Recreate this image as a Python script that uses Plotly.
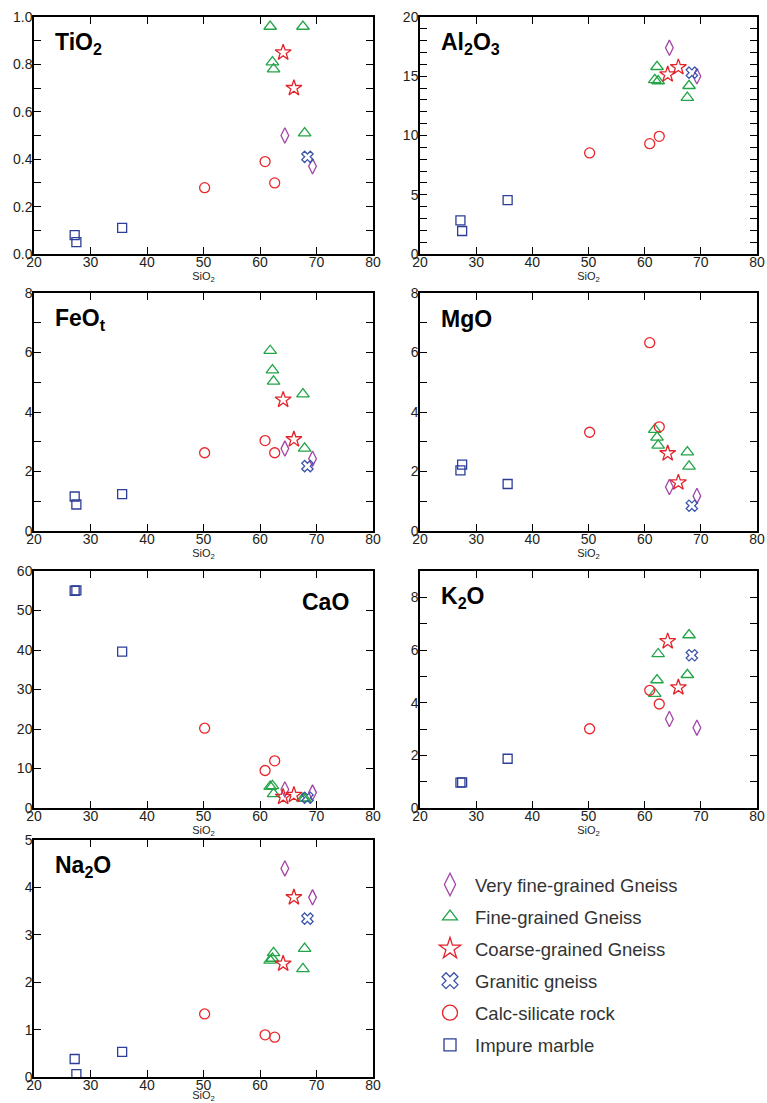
import plotly.graph_objects as go

# ---------------- data ----------------
GROUPS = ["Very fine-grained Gneiss", "Fine-grained Gneiss", "Coarse-grained Gneiss",
          "Granitic gneiss", "Calc-silicate rock", "Impure marble"]

SIO2_VFG = [64.4, 69.3]
SIO2_FG = [61.8, 62.2, 62.4, 67.6, 67.9]
SIO2_CG = [64.1, 66.0]
SIO2_GG = [68.4]
SIO2_CS = [50.2, 60.9, 62.6]
SIO2_IM = [27.2, 27.5, 35.6]

VFG = {"TiO2": [0.50, 0.37], "Al2O3": [17.4, 15.0], "FeOt": [2.77, 2.43], "MgO": [1.48, 1.18],
       "CaO": [4.7, 3.9], "K2O": [3.38, 3.05], "Na2O": [4.40, 3.79]}
FG = {"TiO2": [0.96, 0.81, 0.78, 0.96, 0.51], "Al2O3": [14.7, 15.8, 14.6, 13.2, 14.2],
      "FeOt": [6.06, 5.41, 5.03, 4.60, 2.78], "MgO": [3.41, 3.15, 2.88, 2.65, 2.17],
      "CaO": [5.4, 5.6, 3.6, 2.4, 2.4], "K2O": [4.34, 4.86, 5.85, 5.06, 6.57],
      "Na2O": [2.46, 2.50, 2.62, 2.28, 2.71]}
CG = {"TiO2": [0.85, 0.70], "Al2O3": [15.15, 15.76], "FeOt": [4.41, 3.08], "MgO": [2.61, 1.63],
      "CaO": [2.8, 3.3], "K2O": [6.33, 4.58], "Na2O": [2.39, 3.79]}
GG = {"TiO2": [0.41], "Al2O3": [15.3], "FeOt": [2.18], "MgO": [0.85],
      "CaO": [2.6], "K2O": [5.80], "Na2O": [3.34]}
CS = {"TiO2": [0.28, 0.39, 0.30], "Al2O3": [8.53, 9.31, 9.93], "FeOt": [2.63, 3.04, 2.63],
      "MgO": [3.32, 6.33, 3.50], "CaO": [20.2, 9.5, 11.95], "K2O": [3.01, 4.47, 3.95],
      "Na2O": [1.33, 0.89, 0.84]}
IM = {"TiO2": [0.08, 0.05, 0.11], "Al2O3": [2.83, 1.94, 4.54], "FeOt": [1.16, 0.89, 1.24],
      "MgO": [2.04, 2.23, 1.58], "CaO": [55.0, 55.1, 39.6], "K2O": [0.96, 0.97, 1.87],
      "Na2O": [0.38, 0.06, 0.53]}

OXIDES = ["TiO2", "Al2O3", "FeOt", "MgO", "CaO", "K2O", "Na2O"]
OXIDE_LABELS = ["TiO<sub>2</sub>", "Al<sub>2</sub>O<sub>3</sub>", "FeO<sub>t</sub>", "MgO",
                "CaO", "K<sub>2</sub>O", "Na<sub>2</sub>O"]
Y_RANGES = [[0, 1], [0, 20], [0, 8], [0, 8], [0, 60], [0, 9], [0, 5]]
Y_LABEL_TICKS = [[0, 0.2, 0.4, 0.6, 0.8, 1.0], [0, 5, 10, 15, 20], [0, 2, 4, 6, 8],
                 [0, 2, 4, 6, 8], [0, 10, 20, 30, 40, 50, 60], [0, 2, 4, 6, 8], [0, 1, 2, 3, 4, 5]]
Y_TICK_TEXT = [["0.0", "0.2", "0.4", "0.6", "0.8", "1.0"], None, None, None, None, None, None]
Y_MINOR_STEP = [0.1, 1, 1, 1, None, 1, None]
Y_LONG_TICKS = [[0.5], [5, 10, 15], [5], [5], [50], [5], []]
X_TICKS = [20, 30, 40, 50, 60, 70, 80]

# ---------------- styling ----------------
STYLES = [
    dict(symbol="diamond-tall-open", color="#A244A8", size=11, lsize=16),
    dict(symbol="triangle-up-open", color="#22A447", size=11, lsize=13),
    dict(symbol="star-open", color="#E3232A", size=12, lsize=17),
    dict(symbol="x-open", color="#3B55A8", size=10, lsize=14),
    dict(symbol="circle-open", color="#E8262B", size=10, lsize=15),
    dict(symbol="square-open", color="#2D3E96", size=9, lsize=12),
]
SIO2 = [SIO2_VFG, SIO2_FG, SIO2_CG, SIO2_GG, SIO2_CS, SIO2_IM]
VALUES = [VFG, FG, CG, GG, CS, IM]

W, H = 767, 1103
LEFT_X = [34, 373]
RIGHT_X = [420, 757]
ROWS_Y = [[17, 254], [293, 531], [571, 808], [840, 1077]]

FONT = "Liberation Sans, Arial, sans-serif"
TICK_FONT = dict(family=FONT, size=14, color="#231f20")

fig = go.Figure()
layout = dict(width=W, height=H, margin=dict(l=0, r=0, t=0, b=0, autoexpand=False),
              template="none",
              paper_bgcolor="white", plot_bgcolor="white",
              font=dict(family=FONT, color="#231f20"))

annotations = []
for i, ox in enumerate(OXIDES):
    n = i + 1
    row, col = divmod(i, 2)
    xs = LEFT_X if col == 0 else RIGHT_X
    ys = ROWS_Y[row]
    xdom = [xs[0] / W, xs[1] / W]
    ydom = [1 - ys[1] / H, 1 - ys[0] / H]
    xa = "x" if n == 1 else f"x{n}"
    ya = "y" if n == 1 else f"y{n}"
    for g in range(6):
        st = STYLES[g]
        fig.add_trace(go.Scatter(
            x=SIO2[g], y=VALUES[g][ox], mode="markers", name=GROUPS[g],
            legendgroup=GROUPS[g], showlegend=False,
            marker=dict(symbol=st["symbol"], size=st["size"], color=st["color"],
                        line=dict(color=st["color"], width=1.3)),
            xaxis=xa, yaxis=ya, hoverinfo="x+y+name"))
    layout[f"xaxis{n}"] = dict(
        domain=xdom, anchor=ya, range=[20, 80], tickmode="array", tickvals=X_TICKS,
        ticks="inside", ticklen=7, tickwidth=1.2, tickcolor="black",
        showline=True, linecolor="black", linewidth=1.5, mirror="ticks",
        showgrid=False, zeroline=False, automargin=False, ticklabelstandoff=-6,
        ticklabeloverflow="allow", tickfont=TICK_FONT,
        title=dict(text="SiO<sub>2</sub>", font=dict(family=FONT, size=11, color="#231f20"),
                   standoff=0))
    yax = dict(
        domain=ydom, anchor=xa, range=Y_RANGES[i], tickmode="array",
        tickvals=Y_LABEL_TICKS[i],
        ticks="inside", ticklen=7, tickwidth=1.2, tickcolor="black",
        showline=True, linecolor="black", linewidth=1.5, mirror="ticks",
        showgrid=False, zeroline=False, automargin=False, ticklabelstandoff=-3,
        ticklabeloverflow="allow", tickfont=TICK_FONT)
    if Y_TICK_TEXT[i] is not None:
        yax["ticktext"] = Y_TICK_TEXT[i]
    if Y_MINOR_STEP[i] is not None:
        yax["minor"] = dict(dtick=Y_MINOR_STEP[i], tick0=0, ticks="inside", ticklen=7,
                            tickwidth=1.2, tickcolor="black", showgrid=False)
    layout[f"yaxis{n}"] = yax
    if Y_LONG_TICKS[i]:
        layout[f"yaxis{n + 7}"] = dict(
            overlaying=ya, anchor=xa, side="left", range=Y_RANGES[i], tickmode="array",
            tickvals=Y_LONG_TICKS[i], showticklabels=False, ticks="inside", ticklen=12,
            tickwidth=1.2, tickcolor="black", mirror="ticks", showline=False,
            showgrid=False, zeroline=False, automargin=False)
    if ox == "CaO":
        annotations.append(dict(text="<b>CaO</b>", xref=f"{xa} domain", yref=f"{ya} domain",
                                x=0.935, y=0.87, xanchor="right", yanchor="middle",
                                showarrow=False, font=dict(family=FONT, size=23, color="black")))
    else:
        annotations.append(dict(text=f"<b>{OXIDE_LABELS[i]}</b>", xref=f"{xa} domain",
                                yref=f"{ya} domain", x=0.055, y=0.89, xanchor="left",
                                yanchor="middle", showarrow=False,
                                font=dict(family=FONT, size=23, color="black")))

# legend entries (larger symbols, as in the reference key); no data points drawn
for g in range(6):
    st = STYLES[g]
    fig.add_trace(go.Scatter(
        x=[None], y=[None], mode="markers", name=GROUPS[g], legendgroup=GROUPS[g],
        showlegend=True, xaxis="x", yaxis="y", hoverinfo="skip",
        marker=dict(symbol=st["symbol"], size=st["lsize"], color=st["color"],
                    line=dict(color=st["color"], width=1.3))))

layout["annotations"] = annotations
layout["showlegend"] = True
layout["legend"] = dict(x=425 / W, y=1 - 866 / H, xanchor="left", yanchor="top",
                        font=dict(family=FONT, size=18.5, color="#333333"),
                        tracegroupgap=5, bgcolor="rgba(0,0,0,0)", itemwidth=40)
fig.update_layout(**layout)
fig.write_html("out.html", config={"displayModeBar": False},
               post_script="document.body.style.margin='0';document.body.style.padding='0';")
